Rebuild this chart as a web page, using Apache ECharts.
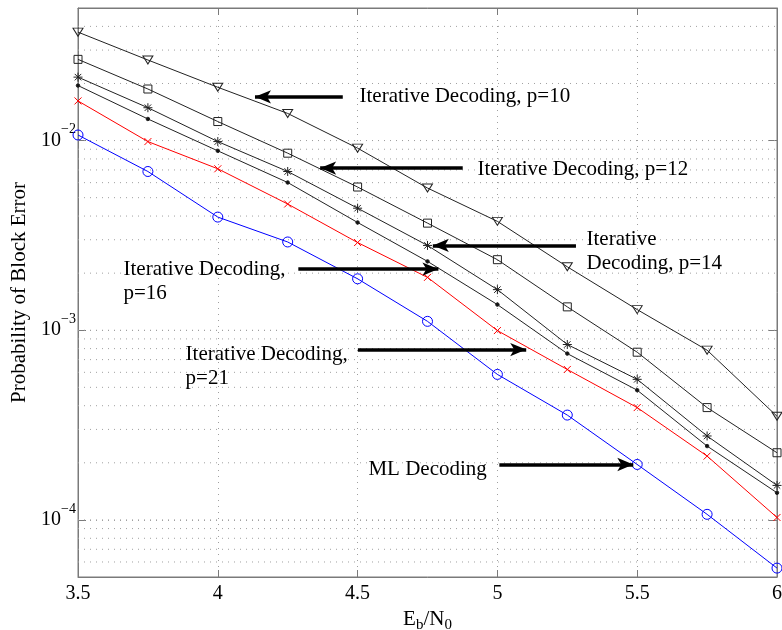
<!DOCTYPE html>
<html>
<head>
<meta charset="utf-8">
<script src="https://cdn.jsdelivr.net/npm/echarts@6/dist/echarts.min.js"></script>
<style>html,body{margin:0;background:#fff}#main{width:782px;height:630px}</style>
</head>
<body>
<div id="main"></div>
<script>
// Eb/N0 points
var ebno = [3.5, 3.75, 4, 4.25, 4.5, 4.75, 5, 5.25, 5.5, 5.75, 6];
// block error probability
var p10 = [0.0373, 0.0266, 0.0191, 0.0139, 0.00912, 0.00562, 0.00375, 0.00216, 0.001285, 0.000785, 0.000352];
var p12 = [0.0268, 0.0187, 0.0126, 0.00858, 0.00569, 0.00367, 0.002355, 0.001328, 0.000766, 0.000391, 0.000226];
var p14 = [0.0216, 0.0149, 0.00988, 0.00687, 0.0044, 0.0028, 0.001637, 0.000841, 0.000551, 0.000277, 0.000152];
var p16 = [0.0195, 0.0130, 0.00883, 0.00601, 0.0037, 0.002307, 0.001365, 0.000753, 0.000483, 0.000245, 0.000139];
var p21 = [0.01618, 0.00988, 0.0071, 0.00463, 0.0029, 0.0019, 0.000996, 0.000621, 0.000391, 0.000217, 0.000103];
var ml  = [0.0107, 0.00687, 0.00395, 0.00292, 0.001867, 0.001114, 0.000585, 0.000357, 0.000196, 0.000107, 0.0000557];
var decades = [-5, -4, -3, -2];
var mult = [1, 2, 3, 4, 5, 6, 7, 8, 9];
var yMin = 5e-5, yMax = 5e-2;

// text notes [x, y, text] and arrows [[x1,y1],[x2,y2]]
var notes = [
	[4.505, 0.01716, 'Iterative Decoding, p=10'],
	[4.927, 0.00701, 'Iterative Decoding, p=12'],
	[5.317, 0.00261, 'Iterative\nDecoding, p=14'],
	[3.661, 0.001816, 'Iterative Decoding,\np=16'],
	[3.883, 0.000644, 'Iterative Decoding,\np=21'],
	[4.537, 0.000185, 'ML Decoding']
];
var arrows = [
	[[4.447, 0.0170], [4.133, 0.0170]],
	[[4.876, 0.00716], [4.366, 0.00716]],
	[[5.281, 0.0028], [4.769, 0.0028]],
	[[4.288, 0.0021], [4.789, 0.0021]],
	[[4.501, 0.000791], [5.103, 0.000791]],
	[[5.007, 0.000196], [5.486, 0.000196]]
];

var FONT = 'Liberation Serif';
var GRID_C = '#a0a0a0';
var AX_C = '#7a7a7a';

function pairs(ys){
	var out = [];
	for (var i = 0; i < ebno.length; i++) out.push([ebno[i], ys[i]]);
	return out;
}

function curve(name, ys, color, symbol, size, fill){
	return {
		name: name, type: 'line', data: pairs(ys), z: 3,
		symbol: symbol, symbolSize: size, showAllSymbol: true,
		lineStyle: {color: color, width: 1},
		itemStyle: {color: fill, borderColor: color, borderWidth: 1},
		emphasis: {disabled: true}
	};
}

var series = [];
// dotted log grid lines (2..9 x 10^k)
decades.forEach(function(d){
	mult.forEach(function(m){
		var v = m * Math.pow(10, d);
		if (v > yMin * 1.0001 && v < yMax * 0.9999) {
			series.push({
				type: 'line', silent: true, z: 1, symbol: 'none',
				data: [[3.5, v], [6, v]],
				lineStyle: {color: GRID_C, width: 1, type: [1, 5]}
			});
		}
	});
});
series.push(
	curve('p=10', p10, '#222', 'path://M0,0L10,0L5,8Z', [10, 8], 'rgba(0,0,0,0)'),
	curve('p=12', p12, '#222', 'rect', 8, 'rgba(0,0,0,0)'),
	curve('p=14', p14, '#222', 'path://M0,-5L0,5M-5,0L5,0M-3.6,-3.6L3.6,3.6M-3.6,3.6L3.6,-3.6', 9, 'rgba(0,0,0,0)'),
	curve('p=16', p16, '#222', 'circle', 3.5, '#111'),
	curve('p=21', p21, '#ff0000', 'path://M-1,-1L1,1M-1,1L1,-1', 7, 'rgba(0,0,0,0)'),
	curve('ML', ml, '#0000ff', 'circle', 10, 'rgba(0,0,0,0)'),
	{
		type: 'line', data: [], z: 6, silent: true,
		markLine: {
			silent: true, z: 6, symbol: ['none', 'arrow'], symbolSize: 14,
			label: {show: false},
			lineStyle: {color: '#000', type: 'solid', width: 3.5},
			data: arrows.map(function(a){ return [{coord: a[0]}, {coord: a[1], symbolSize: [10, 16]}]; })
		},
		markPoint: {
			silent: true, z: 6, symbol: 'rect', symbolSize: 1,
			itemStyle: {color: 'rgba(0,0,0,0)'},
			label: {show: true, position: 'right', distance: 0, color: '#000',
				fontFamily: FONT, fontSize: 21, lineHeight: 24,
				formatter: function(p){ return p.name; }},
			data: notes.map(function(n){ return {coord: [n[0], n[1]], name: n[2]}; })
		}
	}
);

var chart = echarts.init(document.getElementById('main'));
var option = {
	animation: false,
	backgroundColor: '#fff',
	grid: {left: 78, top: 8, right: 5, bottom: 53, show: true, borderColor: AX_C, borderWidth: 1,
		outerBoundsMode: 'none', containLabel: false},
	xAxis: [{
		type: 'value', min: 3.5, max: 6, interval: 0.5,
		axisLine: {lineStyle: {color: AX_C}},
		axisTick: {inside: true, length: 7, lineStyle: {color: AX_C}},
		axisLabel: {color: '#000', fontFamily: FONT, fontSize: 20, margin: 7},
		splitLine: {show: true, lineStyle: {color: GRID_C, type: [1, 5]}},
		name: '{a|E}{s|b}{a|/N}{s|0}', nameLocation: 'middle', nameGap: 25,
		nameTextStyle: {rich: {
			a: {fontFamily: FONT, fontSize: 21, color: '#000'},
			s: {fontFamily: FONT, fontSize: 15, color: '#000', padding: [12, 0, 0, 0]}
		}}
	}, {
		type: 'value', min: 3.5, max: 6, interval: 0.5, position: 'top',
		axisLine: {lineStyle: {color: AX_C}},
		axisTick: {inside: true, length: 7, lineStyle: {color: AX_C}},
		axisLabel: {show: false}, splitLine: {show: false}
	}],
	yAxis: [{
		type: 'log', logBase: 10, min: yMin, max: yMax,
		axisLine: {show: true, lineStyle: {color: AX_C}},
		axisTick: {inside: true, length: 8, lineStyle: {color: AX_C}},
		splitLine: {show: true, lineStyle: {color: GRID_C, type: [1, 5]}},
		axisLabel: {
			margin: 2,
			formatter: function(v){
				var l = Math.log10(v), e = Math.round(l);
				if (Math.abs(l - e) > 1e-6) return '';
				return '{b|10}{e|\u2212' + (-e) + '}';
			},
			rich: {
				b: {fontFamily: FONT, fontSize: 20, color: '#000', verticalAlign: 'middle'},
				e: {fontFamily: FONT, fontSize: 14, color: '#000', verticalAlign: 'middle', padding: [0, 0, 22, 0]}
			}
		},
		name: 'Probability of Block Error', nameLocation: 'middle', nameGap: 47,
		nameTextStyle: {fontFamily: FONT, fontSize: 21, color: '#000'}
	}, {
		type: 'log', logBase: 10, min: yMin, max: yMax, position: 'right',
		axisLine: {show: true, lineStyle: {color: AX_C}},
		axisTick: {inside: true, length: 8, lineStyle: {color: AX_C}},
		axisLabel: {show: false}, splitLine: {show: false}
	}],
	series: series
};
chart.setOption(option);
</script>
</body>
</html>
